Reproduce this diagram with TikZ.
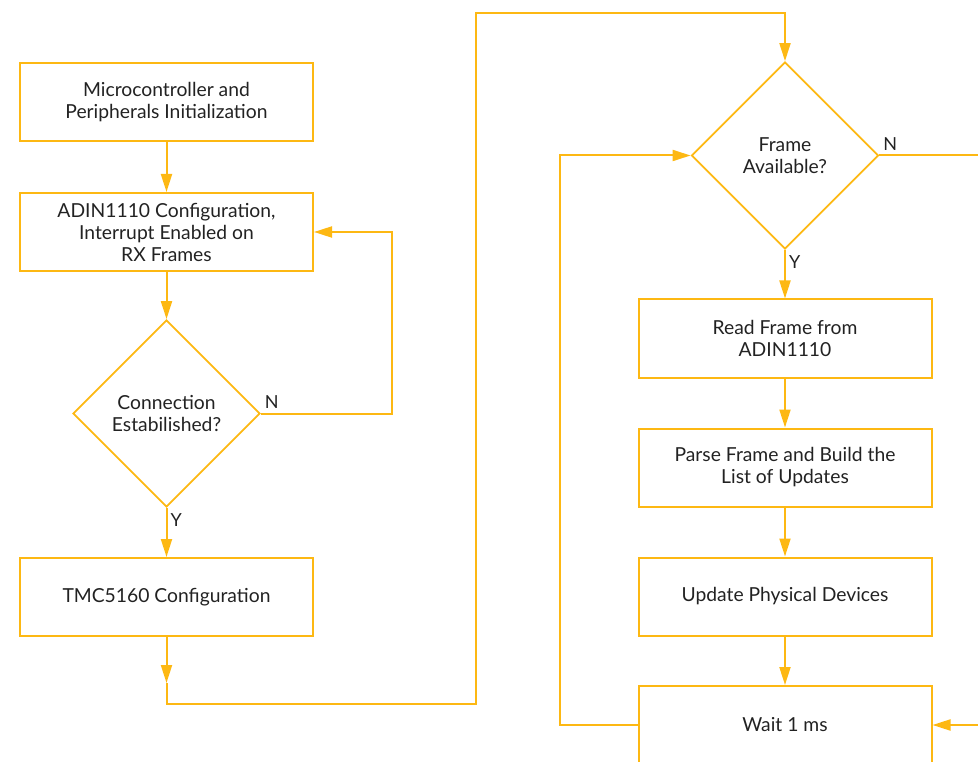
\documentclass[tikz,border=0pt]{standalone}
\usepackage{fontspec}
\setmainfont{Lato}
\usetikzlibrary{shapes.geometric,arrows.meta}
\definecolor{adiyellow}{RGB}{253,184,19}
\definecolor{adigray}{RGB}{34,34,34}
\tikzset{
  process/.style={draw=adiyellow, line width=2pt, minimum width=293pt,
    minimum height=78pt, inner sep=0pt, align=center, text=adigray,
    font=\fontsize{19.3}{22}\selectfont},
  decision/.style={draw=adiyellow, diamond, line width=1.8pt, minimum width=187pt,
    minimum height=187pt, inner sep=0pt, align=center, text=adigray,
    font=\fontsize{19.3}{22}\selectfont},
  flow/.style={draw=adiyellow, line width=2pt, -{Triangle[length=18pt,width=11pt]}},
  link/.style={draw=adiyellow, line width=2pt},
  answer/.style={text=adigray, font=\fontsize{18}{18}\selectfont, inner sep=3pt}
}
\begin{document}
\begin{tikzpicture}[x=1pt, y=-1pt]
  \useasboundingbox (0,0) rectangle (978,762);

  % left column
  \node[process] (init) at (166.5,102.5) {Microcontroller and\\Peripherals Initialization};
  \node[process] (adin) at (166.5,232) {ADIN1110 Configuration,\\Interrupt Enabled on\\RX Frames};
  \node[decision] (conn) at (166.5,413.5) {Connection\\Estabilished?};
  \node[process] (tmc) at (166.5,597) {TMC5160 Configuration};

  % right column
  \node[decision] (frame) at (785,155.5) {Frame\\Available?};
  \node[process] (read) at (785,338.5) {Read Frame from\\ADIN1110};
  \node[process] (parse) at (785,467.5) {Parse Frame and Build the\\List of Updates};
  \node[process] (update) at (785,596.5) {Update Physical Devices};
  \node[process] (wait) at (785,725) {Wait 1 ms};

  \coordinate (nret) at (392,413.5);
  \coordinate (tmcdrop) at (166.5,683);
  \coordinate (lowbend) at (476,704);
  \coordinate (topbend) at (476,13);
  \coordinate (loopbend) at (560,725);
  \coordinate (nexit) at (978,155.5);
  \coordinate (wentry) at (978,725);

  \draw[flow] (init) -- (adin);
  \draw[flow] (adin) -- (conn);
  \draw[flow] (conn) -- node[answer, at start, below right, yshift=-2pt] {Y} (tmc);
  \draw[flow] (conn.east) -- node[answer, at start, above right, yshift=1pt] {N} (nret) |- (adin.east);
  \draw[flow] (tmc) -- (tmcdrop);
  \draw[flow] (tmcdrop) |- (lowbend) -- (topbend) -| (frame.north);

  \draw[flow] (frame) -- node[answer, at start, below right, yshift=-2pt] {Y} (read);
  \draw[link] (frame.east) -- node[answer, at start, above right, yshift=1pt] {N} (nexit);
  \draw[flow] (read) -- (parse);
  \draw[flow] (parse) -- (update);
  \draw[flow] (update) -- (wait);
  \draw[flow] (wait.west) -- (loopbend) |- (frame.west);
  \draw[flow] (wentry) -- (wait.east);
\end{tikzpicture}
\end{document}
